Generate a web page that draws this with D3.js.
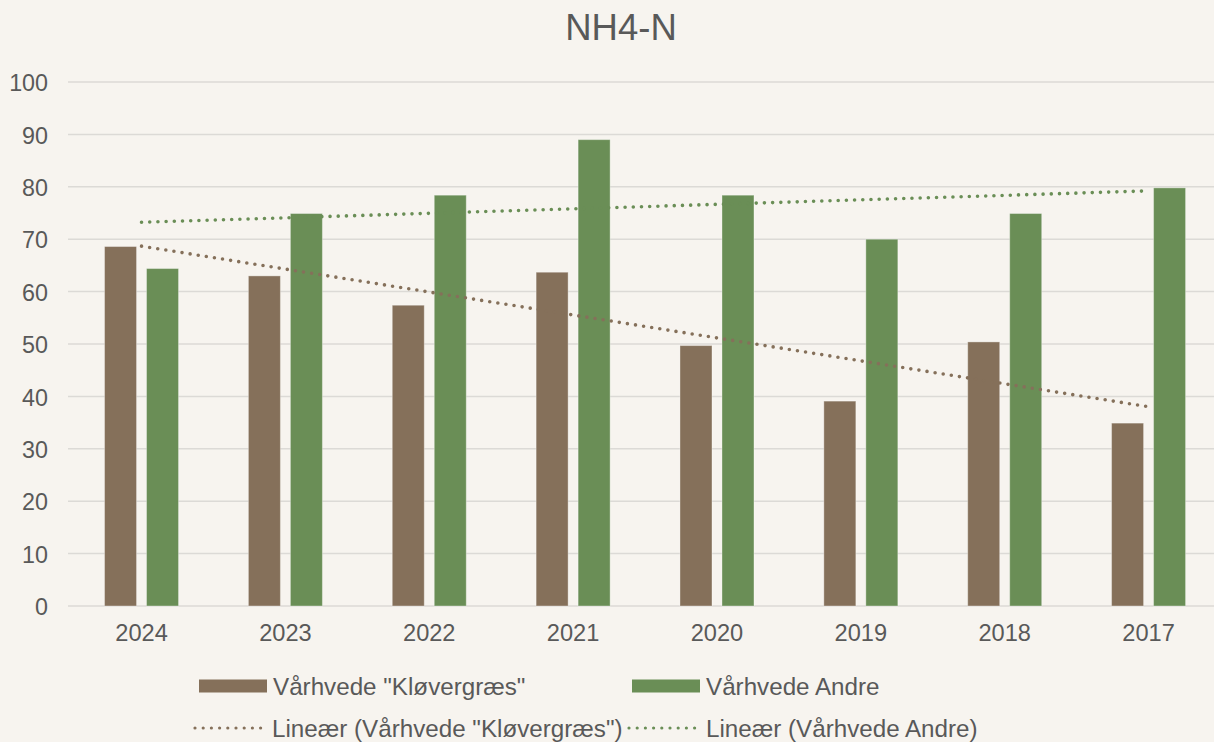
<!DOCTYPE html>
<html>
<head>
<meta charset="utf-8">
<script src="https://cdn.jsdelivr.net/npm/d3@7"></script>
<style>
    html, body { margin: 0; padding: 0; background: #f7f4ef; }
    svg { display: block; font-family: "Liberation Sans", Arial, sans-serif; }
</style>
</head>
<body>
<div id="chart"></div>
<script>
const years = ['2024', '2023', '2022', '2021', '2020', '2019', '2018', '2017'];
const seriesNames = ['Vårhvede "Kløvergræs"', 'Vårhvede Andre'];
const kloevergraes = [68.6, 63.0, 57.4, 63.7, 49.7, 39.1, 50.4, 34.9];
const andre = [64.4, 74.9, 78.4, 89.0, 78.4, 70.0, 74.9, 79.8];
const yTicks = [0, 10, 20, 30, 40, 50, 60, 70, 80, 90, 100];
const colors = ['#85705a', '#6a8e56'];

const width = 1214, height = 742;
const textColor = '#595959';

const svg = d3.select('#chart')
    .append('svg')
    .attr('width', width)
    .attr('height', height);

svg.append('rect')
    .attr('width', width)
    .attr('height', height)
    .attr('fill', '#f7f4ef');

svg.append('text')
    .attr('x', 621)
    .attr('y', 40)
    .attr('text-anchor', 'middle')
    .attr('fill', textColor)
    .style('font-size', '36.5px')
    .text('NH4-N');

const x = d3.scaleBand()
    .domain(years)
    .range([69.6, 1220.5])
    .padding(0);

const x1 = d3.scaleBand()
    .domain(seriesNames)
    .range([-37, 37])
    .paddingInner(0.238)
    .paddingOuter(0);

const y = d3.scaleLinear()
    .domain([0, 100])
    .range([606, 82]);

// gridlines
svg.append('g')
    .selectAll('line')
    .data(yTicks)
    .join('line')
    .attr('x1', 68)
    .attr('x2', width)
    .attr('y1', d => y(d))
    .attr('y2', d => y(d))
    .attr('stroke', '#dcdad6')
    .attr('stroke-width', 1.5);

// y axis labels
const yAxis = svg.append('g')
    .attr('transform', 'translate(48,0)')
    .call(d3.axisLeft(y).tickValues(yTicks).tickSize(0).tickPadding(0));
yAxis.select('.domain').remove();
yAxis.selectAll('text')
    .attr('fill', textColor)
    .attr('dy', '0.37em')
    .style('font-size', '23.3px')
    .style('font-family', '"Liberation Sans", Arial, sans-serif');

// x axis labels
const xAxis = svg.append('g')
    .attr('transform', 'translate(0,624)')
    .call(d3.axisBottom(x).tickSize(0).tickPadding(0));
xAxis.select('.domain').remove();
xAxis.selectAll('text')
    .attr('fill', textColor)
    .style('font-size', '23.6px')
    .style('font-family', '"Liberation Sans", Arial, sans-serif');

// bars
const data = [kloevergraes, andre];
const groups = svg.append('g')
    .selectAll('g')
    .data(years)
    .join('g')
    .attr('transform', d => `translate(${x(d) + x.bandwidth() / 2},0)`);

groups.selectAll('rect')
    .data((yr, i) => seriesNames.map((s, k) => ({ s, k, v: data[k][i] })))
    .join('rect')
    .attr('x', d => x1(d.s))
    .attr('width', x1.bandwidth())
    .attr('y', d => y(d.v))
    .attr('height', d => y(0) - y(d.v))
    .attr('fill', d => colors[d.k])
    .attr('stroke', 'rgba(255,255,255,0.35)')
    .attr('stroke-width', 1);

// linear trendlines (least squares over category index)
function trend(values) {
    const n = values.length;
    const xs = values.map((v, i) => i + 1);
    const mx = d3.mean(xs), my = d3.mean(values);
    const sxy = d3.sum(xs, (xv, i) => (xv - mx) * (values[i] - my));
    const sxx = d3.sum(xs, xv => (xv - mx) * (xv - mx));
    const b = sxy / sxx, a = my - b * mx;
    return [1, n].map(xv => ({ i: xv - 1, v: a + b * xv }));
}

const line = d3.line()
    .x(d => x(years[d.i]) + x.bandwidth() / 2)
    .y(d => y(d.v));

data.forEach((vals, k) => {
    svg.append('path')
        .datum(trend(vals))
        .attr('d', line)
        .attr('fill', 'none')
        .attr('stroke', colors[k])
        .attr('stroke-width', 3.6)
        .attr('stroke-linecap', 'round')
        .attr('stroke-dasharray', '0 8.2');
});

// legend
const legend = svg.append('g').style('font-size', '24.2px');
const legendBars = [
    { x: 199, label: seriesNames[0], color: colors[0] },
    { x: 632, label: seriesNames[1], color: colors[1] }
];
legendBars.forEach(d => {
    legend.append('rect')
        .attr('x', d.x)
        .attr('y', 679.5)
        .attr('width', 68)
        .attr('height', 13)
        .attr('fill', d.color);
    legend.append('text')
        .attr('x', d.x + 74)
        .attr('y', 694.5)
        .attr('fill', textColor)
        .text(d.label);
});
const legendLines = [
    { x: 195, label: 'Lineær (' + seriesNames[0] + ')', color: colors[0] },
    { x: 629, label: 'Lineær (' + seriesNames[1] + ')', color: colors[1] }
];
legendLines.forEach(d => {
    legend.append('line')
        .attr('x1', d.x)
        .attr('x2', d.x + 70)
        .attr('y1', 728)
        .attr('y2', 728)
        .attr('stroke', d.color)
        .attr('stroke-width', 3.2)
        .attr('stroke-linecap', 'round')
        .attr('stroke-dasharray', '0 8.2');
    legend.append('text')
        .attr('x', d.x + 77)
        .attr('y', 737)
        .attr('fill', textColor)
        .text(d.label);
});
</script>
</body>
</html>
